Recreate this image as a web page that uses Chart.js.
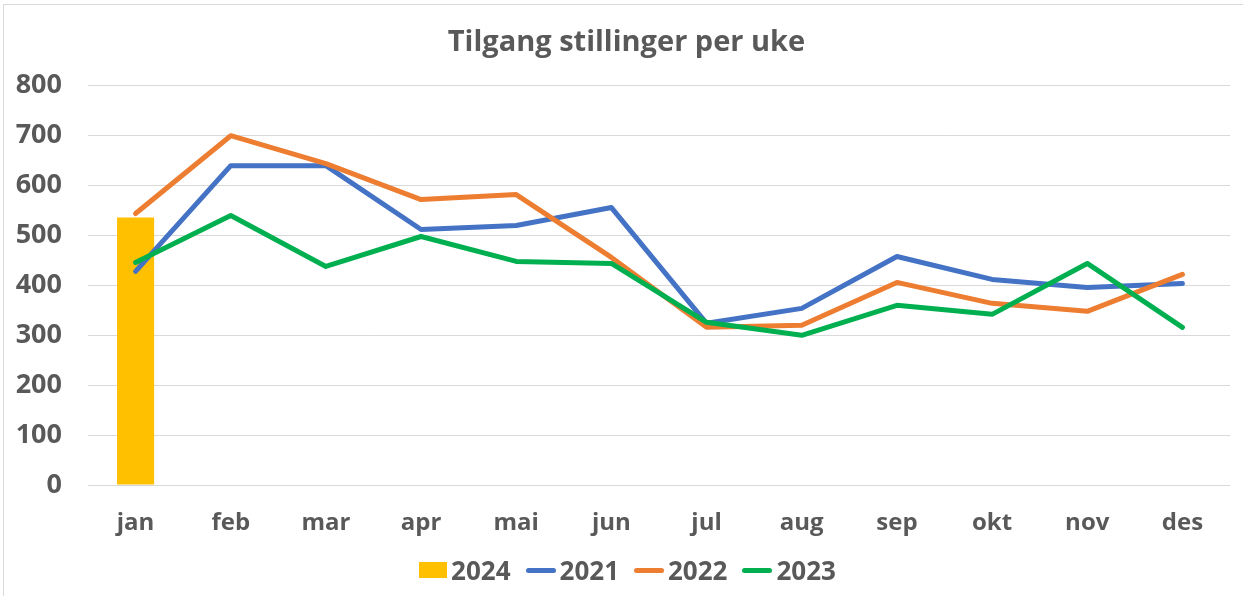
<!DOCTYPE html>
<html>
<head>
<meta charset="utf-8">
<script src="https://cdn.jsdelivr.net/npm/chart.js@4.4.1/dist/chart.umd.min.js"></script>
<style>
  html, body { margin: 0; padding: 0; background: #fff; overflow: hidden; }
  #frame {
    position: absolute; left: 3px; top: 4px;
    width: 1245px; height: 600px;
    border: 1px solid #d9d9d9; background: #fff; overflow: hidden;
  }
  #wrap { position: absolute; left: 0; top: 0; width: 1245px; height: 592px; }
  #legend {
    position: absolute; left: 0; top: 552px; width: 1255px;
    display: flex; justify-content: center; align-items: center;
    font: bold 26px "Open Sans", "Liberation Sans", sans-serif; color: #595959;
  }
  .item { display: flex; align-items: center; margin: 0 7.5px; }
  .item span { margin-left: 4px; line-height: 36px; }
  .box { width: 28px; height: 16px; }
  .line { width: 30px; height: 5px; border-radius: 3px; }
</style>
</head>
<body>
<div id="frame"><div id="wrap"><canvas id="chart"></canvas></div></div>
<div id="legend"></div>
<script>
const months = ['jan', 'feb', 'mar', 'apr', 'mai', 'jun', 'jul', 'aug', 'sep', 'okt', 'nov', 'des'];
const yTicks = [0, 100, 200, 300, 400, 500, 600, 700, 800];
const v2024 = [536, null, null, null, null, null, null, null, null, null, null, null];
const v2021 = [428, 640, 640, 512, 520, 556, 324, 354, 458, 412, 396, 404];
const v2022 = [544, 700, 644, 572, 582, 456, 316, 320, 406, 364, 348, 422];
const v2023 = [446, 540, 438, 498, 448, 444, 326, 300, 360, 342, 444, 316];

const textColor = '#595959';
const fontFamily = '"Open Sans", "Liberation Sans", sans-serif';

function lineSet(label, data, color, order) {
  return {
    type: 'line', label: label, data: data,
    borderColor: color, backgroundColor: color,
    borderWidth: 5, pointRadius: 0, tension: 0,
    borderCapStyle: 'round', borderJoinStyle: 'round',
    order: order
  };
}

const chart = new Chart(document.getElementById('chart'), {
  data: {
    labels: months,
    datasets: [
      { type: 'bar', label: '2024', data: v2024, backgroundColor: '#FFC000',
        barPercentage: 0.39, categoryPercentage: 1, order: 4 },
      lineSet('2021', v2021, '#4472C4', 3),
      lineSet('2022', v2022, '#ED7D31', 2),
      lineSet('2023', v2023, '#00B050', 1)
    ]
  },
  options: {
    responsive: true,
    maintainAspectRatio: false,
    animation: false,
    layout: { padding: { left: 0, right: 0, top: 0, bottom: 50 } },
    plugins: {
      title: {
        display: true, text: 'Tilgang stillinger per uke', color: textColor,
        font: { family: fontFamily, size: 29, weight: 'bold' },
        padding: { top: 20, bottom: 26 }
      },
      legend: { display: false },
      tooltip: { enabled: false }
    },
    scales: {
      x: {
        offset: true,
        grid: { display: false, drawTicks: false },
        border: { display: false },
        ticks: { color: textColor, padding: 24,
          font: { family: fontFamily, size: 24, weight: 'bold' } },
        afterFit: function(s) { s.height = 62; }
      },
      y: {
        min: 0, max: 800,
        afterBuildTicks: function(s) { s.ticks = yTicks.map(function(v) { return { value: v }; }); },
        grid: { color: '#d9d9d9', lineWidth: 1, drawTicks: false },
        border: { display: false },
        ticks: { color: textColor, padding: 26,
          font: { family: fontFamily, size: 27, weight: 'bold' } },
        afterFit: function(s) { s.width = 84; }
      },
      // empty right-hand margin so the title centres over the whole frame
      yRight: {
        position: 'right', min: 0, max: 800,
        grid: { display: false, drawTicks: false },
        border: { display: false },
        ticks: { display: false },
        afterFit: function(s) { s.width = 19; }
      }
    }
  }
});

// legend built from the datasets, in dataset order
const legend = document.getElementById('legend');
chart.data.datasets.forEach(function(ds) {
  const item = document.createElement('div');
  item.className = 'item';
  const mark = document.createElement('div');
  mark.className = ds.type === 'bar' ? 'box' : 'line';
  mark.style.background = ds.type === 'bar' ? ds.backgroundColor : ds.borderColor;
  const txt = document.createElement('span');
  txt.textContent = ds.label;
  item.appendChild(mark);
  item.appendChild(txt);
  legend.appendChild(item);
});
</script>
</body>
</html>
